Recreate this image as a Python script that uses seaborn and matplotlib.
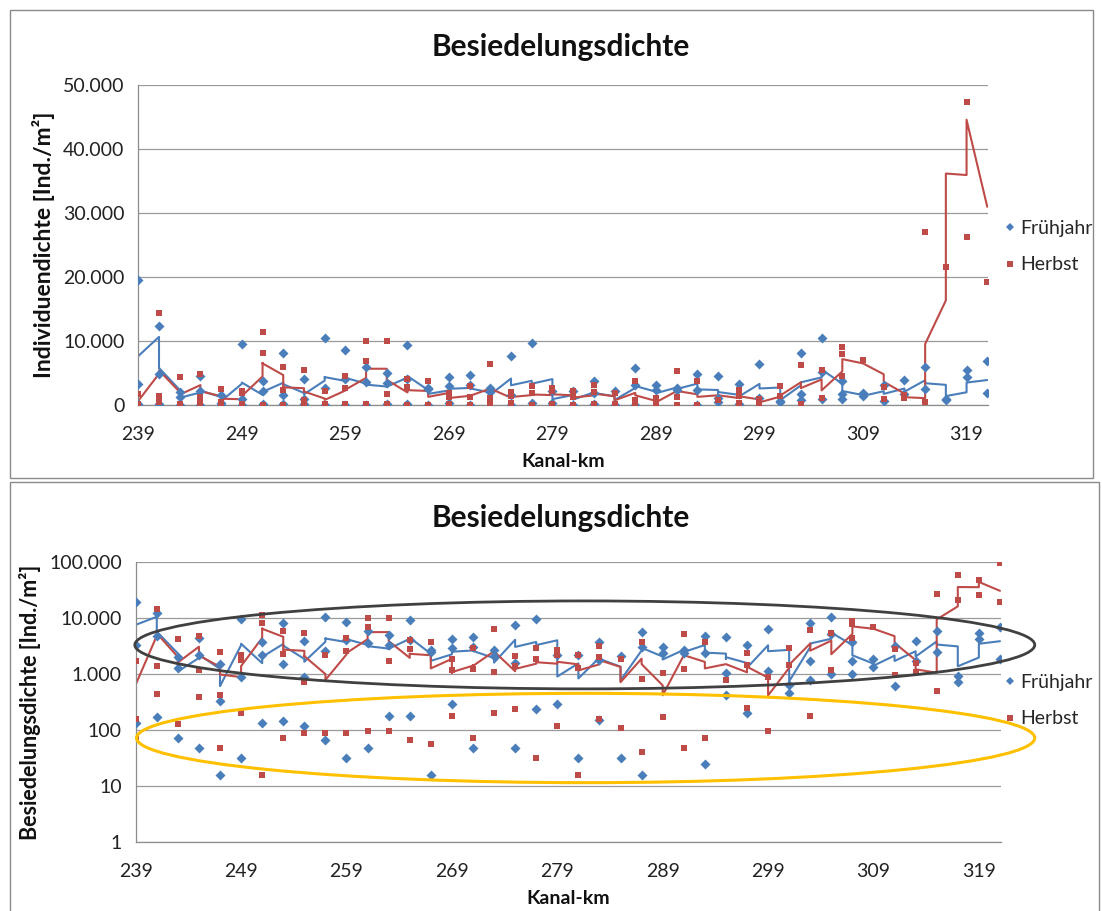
import numpy as np
import pandas as pd
import matplotlib
matplotlib.use("Agg")
import matplotlib.pyplot as plt
import seaborn as sns
from matplotlib.patches import Ellipse, Rectangle
from matplotlib.ticker import FuncFormatter, FixedLocator, NullLocator
from matplotlib.lines import Line2D

# ---------------- data ----------------
sites = list(range(239, 322, 2))   # Kanal-km of sampling sites

fruehjahr = [
    [3300, 19500, 137], [12300, 4900, 175], [2000, 1300, 72], [4500, 2200, 48],
    [1500, 330, 16], [9600, 910, 32], [3800, 2200, 137], [8100, 1500, 148],
    [4000, 910, 121], [10400, 2600, 67], [8600, 4100, 32], [5900, 3600, 48],
    [5000, 3400, 183], [9300, 4100, 183], [2700, 2500, 16], [4300, 3000, 300],
    [4700, 3100, 48], [2700, 2100], [7600, 1600, 48], [9700, 240],
    [2200, 300], [2200, 32], [3700, 1800, 153], [2150, 32],
    [5800, 3100, 16], [3100, 2400], [2700, 2400], [4900, 2400, 25],
    [4600, 1050, 425], [3300, 200], [6400, 1150], [640, 460],
    [8100, 1750, 790], [10400, 5200, 1000], [3800, 1750, 1000], [1900, 1370],
    [3200, 630], [3900, 1700], [6000, 2500], [950, 720],
    [4300, 5500], [1900, 6900],
]

herbst = [
    [1730, 160, 72], [14400, 1380, 440], [4300, 128], [4900, 1200, 390],
    [2500, 427, 48], [2200, 1800, 207], [11400, 8100, 16], [5900, 2300, 72],
    [5500, 740, 88], [2200, 88], [4500, 2600, 88], [10000, 6900, 98],
    [10000, 1700, 98], [4100, 2800, 67], [3700, 57], [1900, 1200, 183],
    [2900, 1250, 72], [6400, 1100, 200], [2100, 1400, 240], [3000, 1900, 32],
    [2700, 2200, 121], [2200, 1300, 16], [3200, 2000, 160], [1900, 108],
    [3700, 815, 41], [1050, 175], [5300, 1250, 48], [3700, 72],
    [785], [2400, 1450, 250], [910, 98], [2900, 1450],
    [6300, 180], [5500, 1170], [9100, 7900, 4500], [7100],
    [2800, 980], [1600, 1100], [500, 27000], [21500, 60000],
    [26300, 47400], [19200, 98000],
]

series_names = ["Frühjahr", "Herbst"]
x_ticks = [239, 249, 259, 269, 279, 289, 299, 309, 319]
lin_ticks = [0, 10000, 20000, 30000, 40000, 50000]
log_ticks = [1, 10, 100, 1000, 10000, 100000]

# ---------------- helpers ----------------
def to_frame(nested, name):
    rows = []
    for km, vals in zip(sites, nested):
        for v in vals:
            rows.append((km, v, name))
    return pd.DataFrame(rows, columns=["km", "dichte", "serie"])

def moving_avg(df, period=3):
    # Excel-style moving-average trendline over the data sequence
    y = df["dichte"].to_numpy(float)
    x = df["km"].to_numpy(float)
    idx = np.arange(period - 1, len(y) - 1)
    ma = np.array([y[i - period + 1:i + 1].mean() for i in idx])
    return pd.DataFrame({"km": x[idx], "ma": ma})

df_f = to_frame(fruehjahr, "Frühjahr")
df_h = to_frame(herbst, "Herbst")
ma_f = moving_avg(df_f)
ma_h = moving_avg(df_h)

BLUE = "#4A7EBB"
RED = "#BE4B48"
GRID = "#9A9A9A"
AX = "#8C8C8C"

sns.set_theme(style="white")
plt.rcParams["font.family"] = ["Lato", "DejaVu Sans"]

W, H = 1102, 911
fig = plt.figure(figsize=(W / 100, H / 100), dpi=100)

def px_axes(left, right, top, bottom):
    return fig.add_axes([left / W, 1 - bottom / H, (right - left) / W, (bottom - top) / H])

def de_fmt(v, pos=None):
    return f"{int(round(v)):,}".replace(",", ".")

# panel frames
fig.patches.append(Rectangle((10 / W, 1 - 478 / H), 1083 / W, 468 / H, transform=fig.transFigure,
                             fill=False, edgecolor="#8A8A8A", lw=1.0))
fig.patches.append(Rectangle((10 / W, -0.01), 1089 / W, (1 - 482 / H) + 0.01, transform=fig.transFigure,
                             fill=False, edgecolor="#8A8A8A", lw=1.0))

ax1 = px_axes(138.3, 988.3, 85, 405)
ax2 = px_axes(135.7, 1001.0, 562.3, 842.3)

TICK_FS = 14

def draw(ax, log):
    for df, ma, col, mk, sz in [(df_f, ma_f, BLUE, "D", 26), (df_h, ma_h, RED, "s", 24)]:
        sns.lineplot(data=ma, x="km", y="ma", ax=ax, color=col, lw=1.5, sort=False,
                     estimator=None, legend=False, zorder=2)
        sns.scatterplot(data=df, x="km", y="dichte", ax=ax, color=col, marker=mk, s=sz,
                        linewidth=0, legend=False, zorder=3)
    ax.set_xlim(239, 321.1)
    ax.xaxis.set_major_locator(FixedLocator(x_ticks))
    ax.xaxis.set_minor_locator(NullLocator())
    if log:
        ax.set_yscale("log")
        ax.set_ylim(1, 100000)
        ax.yaxis.set_major_locator(FixedLocator(log_ticks))
    else:
        ax.set_ylim(0, 50000)
        ax.yaxis.set_major_locator(FixedLocator(lin_ticks))
    ax.yaxis.set_minor_locator(NullLocator())
    ax.yaxis.set_major_formatter(FuncFormatter(de_fmt))
    ax.grid(axis="y", color=GRID, lw=0.9)
    ax.grid(axis="x", visible=False)
    for s in ["top", "right"]:
        ax.spines[s].set_visible(False)
    for s in ["left", "bottom"]:
        ax.spines[s].set_color(AX)
        ax.spines[s].set_linewidth(0.9)
    ax.tick_params(axis="both", which="major", direction="out", length=4, width=0.9,
                   color=AX, labelsize=TICK_FS, labelcolor="#222222")
    ax.tick_params(axis="x", pad=11)
    ax.tick_params(axis="y", pad=6)
    ax.set_xlabel("Kanal-km", fontsize=14, fontweight="bold", color="#111111", labelpad=7)
    ax.set_facecolor("white")

draw(ax1, False)
draw(ax2, True)
ax1.set_ylabel("Individuendichte [Ind./m²]", fontsize=16.5, fontweight="bold", color="#111111", labelpad=6)
ax2.set_ylabel("Besiedelungsdichte [Ind./m²]", fontsize=15.5, fontweight="bold", color="#111111", labelpad=6)

fig.text(561 / W, 1 - 47 / H, "Besiedelungsdichte", ha="center", va="center",
         fontsize=21.5, fontweight="bold", color="#111111")
fig.text(561 / W, 1 - 518 / H, "Besiedelungsdichte", ha="center", va="center",
         fontsize=21.5, fontweight="bold", color="#111111")

# highlight ellipses (drawn in display-linear axes coordinates)
ax2.add_patch(Ellipse((0.519, 0.705), 1.040, 0.314, transform=ax2.transAxes, fill=False,
                      edgecolor="#404040", lw=2.0, clip_on=False, zorder=5))
ax2.add_patch(Ellipse((0.520, 0.3725), 1.038, 0.319, transform=ax2.transAxes, fill=False,
                      edgecolor="#FFC000", lw=2.2, clip_on=False, zorder=5))

handles = [Line2D([], [], ls="none", marker="D", color=BLUE, ms=4.5, mew=0),
           Line2D([], [], ls="none", marker="s", color=RED, ms=4.2, mew=0)]
for ax, ytop in [(ax1, 220), (ax2, 674)]:
    ax.legend(handles, series_names, loc="upper left", bbox_to_anchor=(1004 / W, 1 - ytop / H),
              bbox_transform=fig.transFigure, frameon=False, fontsize=14, handlelength=0.6,
              handletextpad=0.25, labelspacing=1.0, borderaxespad=0, borderpad=0)

fig.savefig("out.png", dpi=100, facecolor="white")
